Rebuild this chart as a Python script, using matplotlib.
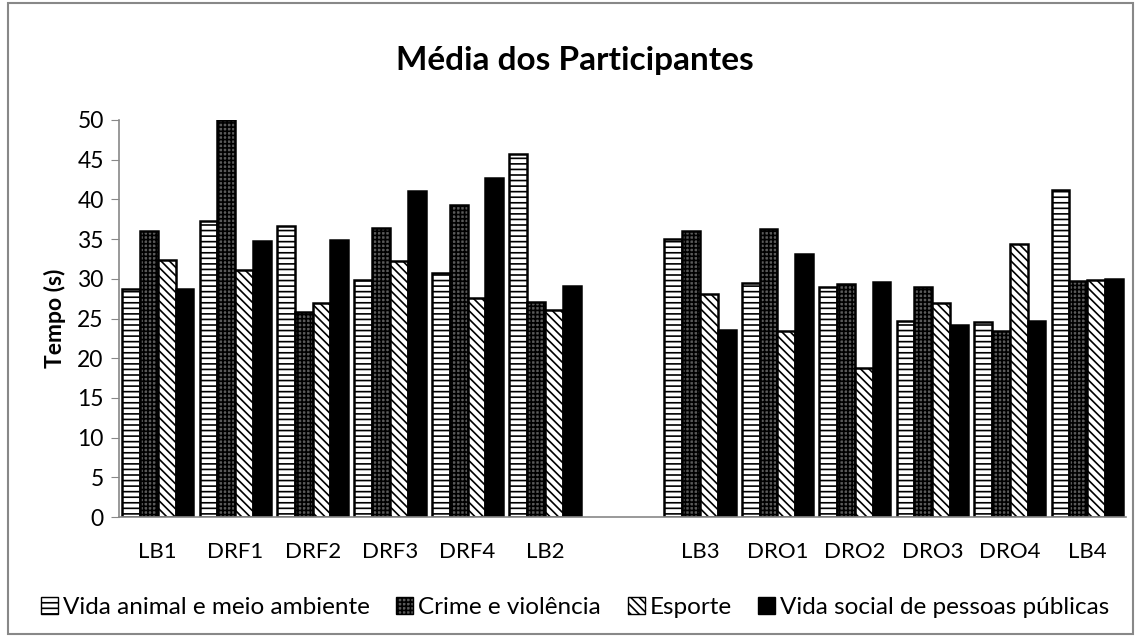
import matplotlib
matplotlib.use("Agg")
import matplotlib.pyplot as plt
import matplotlib.patches as mpatches
import numpy as np

plt.rcParams["font.family"] = ["Lato", "DejaVu Sans"]
plt.rcParams["hatch.linewidth"] = 1.2

categories = ["LB1", "DRF1", "DRF2", "DRF3", "DRF4", "LB2", "",
              "LB3", "DRO1", "DRO2", "DRO3", "DRO4", "LB4"]

series_names = [
    "Vida animal e meio ambiente",
    "Crime e violência",
    "Esporte",
    "Vida social de pessoas públicas",
]

# values in seconds, None for the empty gap slot
vida_animal = [28.7, 37.3, 36.6, 29.8, 30.7, 45.7, None, 35.0, 29.5, 28.9, 24.7, 24.5, 41.2]
crime = [36.0, 50.0, 25.8, 36.4, 39.3, 27.1, None, 36.0, 36.2, 29.3, 28.9, 23.4, 29.7]
esporte = [32.4, 31.1, 26.9, 32.2, 27.6, 26.1, None, 28.1, 23.4, 18.8, 26.9, 34.4, 29.9]
vida_social = [28.7, 34.8, 34.9, 41.1, 42.7, 29.1, None, 23.6, 33.1, 29.6, 24.2, 24.7, 30.0]

series = [vida_animal, crime, esporte, vida_social]
styles = [
    dict(facecolor="white", hatch="---"),
    dict(facecolor="#5a5a5a", hatch="++++"),
    dict(facecolor="white", hatch="\\\\\\\\"),
    dict(facecolor="black", hatch=None),
]

fig = plt.figure(figsize=(11.39, 6.37), dpi=100)
ax = fig.add_axes([0.1045, 0.188, 0.884, 0.624])

x = np.arange(len(categories))
width = 0.23
offsets = (np.arange(4) - 1.5) * width
handles = []
for vals, st, off, name in zip(series, styles, offsets, series_names):
    xs = [xi + off for xi, v in zip(x, vals) if v is not None]
    ys = [v for v in vals if v is not None]
    ax.bar(xs, ys, width=width, edgecolor="black", linewidth=1.8, zorder=2, **st)
    handles.append(mpatches.Patch(edgecolor="black", linewidth=1.0, label=name, **st))

ax.set_xlim(-0.5, len(categories) - 0.5)
ax.set_ylim(0, 50)
ax.set_yticks(np.arange(0, 51, 5))
ax.set_xticks(x)
ax.set_xticklabels(categories)
ax.tick_params(axis="x", length=0, labelsize=16, pad=18, colors="black")
ax.tick_params(axis="y", length=6, labelsize=16.5, color="#888888", pad=5)
for s in ["top", "right"]:
    ax.spines[s].set_visible(False)
for s in ["left", "bottom"]:
    ax.spines[s].set_color("#888888")
    ax.spines[s].set_linewidth(1.2)

ax.set_ylabel("Tempo (s)", fontsize=16.5, fontweight="bold", labelpad=8)
fig.text(0.505, 0.905, "Média dos Participantes", ha="center", va="center",
         fontsize=24, fontweight="bold")

fig.legend(handles=handles, loc="center", bbox_to_anchor=(0.505, 0.046), ncol=4,
           frameon=False, fontsize=17.5, handlelength=0.7, handleheight=0.7,
           handletextpad=0.2, columnspacing=1.1)

border = mpatches.Rectangle((0.007, 0.004), 0.988, 0.992, transform=fig.transFigure,
                            fill=False, edgecolor="#888888", linewidth=1.5)
fig.patches.append(border)

fig.savefig("out.png", dpi=100)
